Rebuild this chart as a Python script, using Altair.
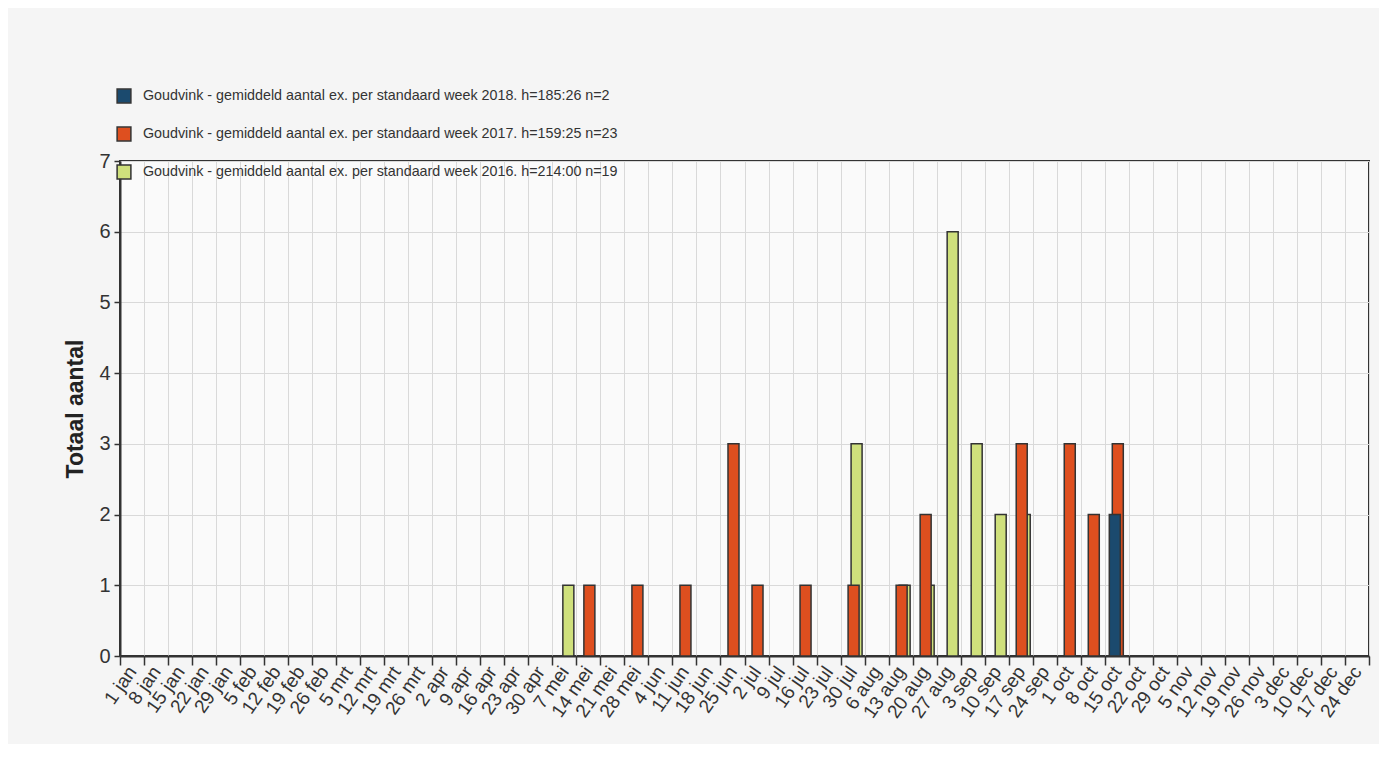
import altair as alt
import pandas as pd

weeks = ["1 jan", "8 jan", "15 jan", "22 jan", "29 jan", "5 feb", "12 feb", "19 feb", "26 feb",
         "5 mrt", "12 mrt", "19 mrt", "26 mrt", "2 apr", "9 apr", "16 apr", "23 apr", "30 apr",
         "7 mei", "14 mei", "21 mei", "28 mei", "4 jun", "11 jun", "18 jun", "25 jun",
         "2 jul", "9 jul", "16 jul", "23 jul", "30 jul", "6 aug", "13 aug", "20 aug", "27 aug",
         "3 sep", "10 sep", "17 sep", "24 sep", "1 oct", "8 oct", "15 oct", "22 oct", "29 oct",
         "5 nov", "12 nov", "19 nov", "26 nov", "3 dec", "10 dec", "17 dec", "24 dec"]

s2018 = "Goudvink - gemiddeld aantal ex. per standaard week 2018. h=185:26 n=2"
s2017 = "Goudvink - gemiddeld aantal ex. per standaard week 2017. h=159:25 n=23"
s2016 = "Goudvink - gemiddeld aantal ex. per standaard week 2016. h=214:00 n=19"

weeks_2018 = ["15 oct"]
vals_2018 = [2]

weeks_2017 = ["14 mei", "28 mei", "11 jun", "25 jun", "2 jul", "16 jul", "30 jul", "13 aug",
              "20 aug", "17 sep", "1 oct", "8 oct", "15 oct"]
vals_2017 = [1, 1, 1, 3, 1, 1, 1, 1, 2, 3, 3, 2, 3]

weeks_2016 = ["7 mei", "30 jul", "13 aug", "20 aug", "27 aug", "3 sep", "10 sep", "17 sep"]
vals_2016 = [1, 3, 1, 1, 6, 3, 2, 2]

series = [s2018, s2017, s2016]
colors = ["#1b4a6e", "#de4f1f", "#cfe07c"]

rows = []
for s, wk, vals in [(s2018, weeks_2018, vals_2018), (s2017, weeks_2017, vals_2017),
                    (s2016, weeks_2016, vals_2016)]:
    for w, v in zip(wk, vals):
        rows.append({"week": w, "value": v, "series": s})
df = pd.DataFrame(rows)

regular = "Liberation Sans, Arial, sans-serif"

x_enc = alt.X("week:N", sort=weeks,
              scale=alt.Scale(domain=weeks, paddingInner=0, paddingOuter=0),
              axis=alt.Axis(title=None, tickBand="extent", grid=True, gridColor="#d9d9d9",
                            labelAngle=-55, labelAlign="right", labelBaseline="middle",
                            labelFont=regular, labelFontSize=19, labelColor="#333",
                            labelPadding=3, labelOverlap=False,
                            tickSize=9, tickColor="#333", tickWidth=1.5,
                            domainColor="#333", domainWidth=2))
y_enc = alt.Y("value:Q",
              scale=alt.Scale(domain=[0, 7], nice=False),
              axis=alt.Axis(title="Totaal aantal", values=list(range(8)), grid=True,
                            gridColor="#d9d9d9", tickSize=6, tickColor="#333", tickWidth=1.5,
                            labelFont=regular, labelFontSize=20, labelColor="#333",
                            labelPadding=4, domainColor="#333", domainWidth=2,
                            titleFont=regular, titleFontSize=23, titleFontWeight="bold",
                            titleColor="#222", titleX=-45, titleY=247.5, titleAngle=270,
                            titleAlign="center", titleBaseline="middle"))
color_enc = alt.Color("series:N",
                      scale=alt.Scale(domain=series, range=colors),
                      legend=alt.Legend(title=None, orient="none", legendX=-4, legendY=-73,
                                        direction="vertical",
                                        symbolType="square", symbolSize=190,
                                        symbolStrokeColor="#333", symbolStrokeWidth=1.5,
                                        symbolOpacity=1,
                                        labelFont=regular, labelFontSize=14.3,
                                        labelColor="#333", labelLimit=1000,
                                        rowPadding=18, labelOffset=11))

base = alt.Chart(df)
offsets = {s2016: 4, s2017: 1, s2018: -2}
layers = []
for s in [s2016, s2017, s2018]:
    layers.append(
        base.transform_filter(alt.datum.series == s)
        .mark_bar(width=11, xOffset=offsets[s], stroke="#333", strokeWidth=1.5)
        .encode(x=x_enc, y=y_enc, color=color_enc)
    )

chart = (
    alt.layer(*layers)
    .properties(width=1249, height=495,
                autosize=alt.AutoSizeParams(type="none"),
                padding={"left": 112, "top": 153, "right": 10, "bottom": 88},
                background="#f5f5f5")
    .configure_view(stroke="#333", strokeWidth=2, fill="#fafafa")
)

chart.save("out.html", embed_options={"renderer": "svg", "actions": False})
